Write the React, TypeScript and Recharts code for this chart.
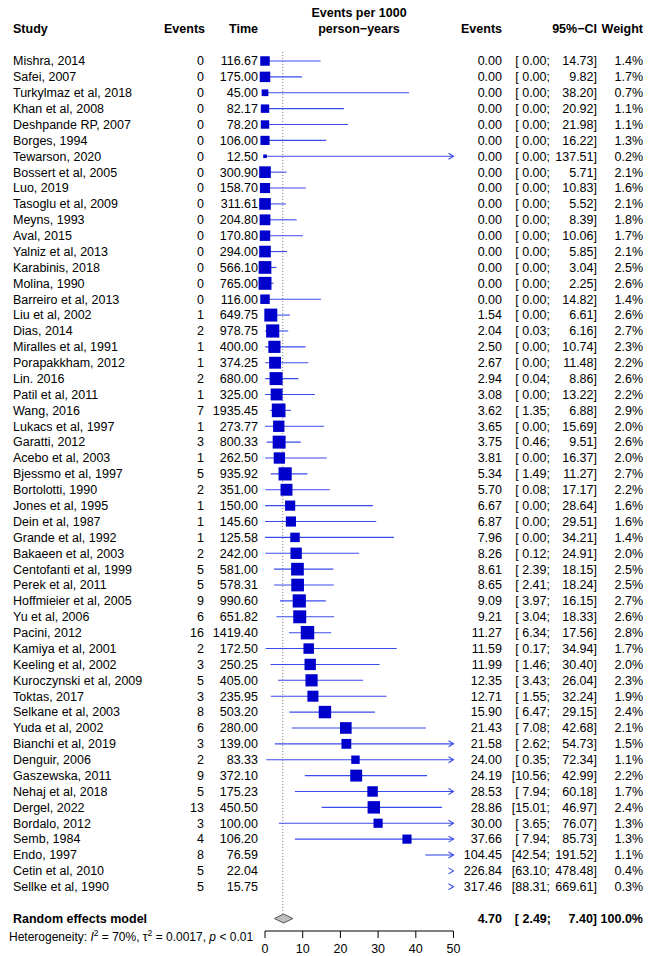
import React from 'react';
import { ScatterChart, Scatter, XAxis, YAxis, ReferenceLine } from 'recharts';

// study rows, top to bottom
const studies = [
  'Mishra, 2014', 'Safei, 2007', 'Turkylmaz et al, 2018', 'Khan et al, 2008', 'Deshpande RP, 2007',
  'Borges, 1994', 'Tewarson, 2020', 'Bossert et al, 2005', 'Luo, 2019', 'Tasoglu et al, 2009',
  'Meyns, 1993', 'Aval, 2015', 'Yalniz et al, 2013', 'Karabinis, 2018', 'Molina, 1990',
  'Barreiro et al, 2013', 'Liu et al, 2002', 'Dias, 2014', 'Miralles et al, 1991', 'Porapakkham, 2012',
  'Lin. 2016', 'Patil et al, 2011', 'Wang, 2016', 'Lukacs et al, 1997', 'Garatti, 2012',
  'Acebo et al, 2003', 'Bjessmo et al, 1997', 'Bortolotti, 1990', 'Jones et al, 1995', 'Dein et al, 1987',
  'Grande et al, 1992', 'Bakaeen et al, 2003', 'Centofanti et al, 1999', 'Perek et al, 2011', 'Hoffmieier et al, 2005',
  'Yu et al, 2006', 'Pacini, 2012', 'Kamiya et al, 2001', 'Keeling et al, 2002', 'Kuroczynski et al, 2009',
  'Toktas, 2017', 'Selkane et al, 2003', 'Yuda et al, 2002', 'Bianchi et al, 2019', 'Denguir, 2006',
  'Gaszewska, 2011', 'Nehaj et al, 2018', 'Dergel, 2022', 'Bordalo, 2012', 'Semb, 1984',
  'Endo, 1997', 'Cetin et al, 2010', 'Sellke et al, 1990',
];

const events = [
  0, 0, 0, 0, 0, 0, 0, 0, 0, 0, 0, 0, 0, 0, 0, 0,
  1, 2, 1, 1, 2, 1, 7, 1, 3, 1, 5, 2, 1, 1, 1, 2, 5, 5, 9, 6, 16, 2, 3, 5, 3, 8, 6, 3, 2, 9, 5, 13, 3, 4, 8, 5, 5,
];

const times = [
  116.67, 175.0, 45.0, 82.17, 78.2, 106.0, 12.5, 300.9, 158.7, 311.61, 204.8, 170.8, 294.0, 566.1, 765.0, 116.0,
  649.75, 978.75, 400.0, 374.25, 680.0, 325.0, 1935.45, 273.77, 800.33, 262.5, 935.92, 351.0, 150.0, 145.6, 125.58,
  242.0, 581.0, 578.31, 990.6, 651.82, 1419.4, 172.5, 250.25, 405.0, 235.95, 503.2, 280.0, 139.0, 83.33, 372.1,
  175.23, 450.5, 100.0, 106.2, 76.59, 22.04, 15.75,
];

const rates = [
  0, 0, 0, 0, 0, 0, 0, 0, 0, 0, 0, 0, 0, 0, 0, 0,
  1.54, 2.04, 2.5, 2.67, 2.94, 3.08, 3.62, 3.65, 3.75, 3.81, 5.34, 5.7, 6.67, 6.87, 7.96, 8.26, 8.61, 8.65, 9.09,
  9.21, 11.27, 11.59, 11.99, 12.35, 12.71, 15.9, 21.43, 21.58, 24.0, 24.19, 28.53, 28.86, 30.0, 37.66, 104.45,
  226.84, 317.46,
];

const lowers = [
  0, 0, 0, 0, 0, 0, 0, 0, 0, 0, 0, 0, 0, 0, 0, 0,
  0, 0.03, 0, 0, 0.04, 0, 1.35, 0, 0.46, 0, 1.49, 0.08, 0, 0, 0, 0.12, 2.39, 2.41, 3.97, 3.04, 6.34, 0.17, 1.46,
  3.43, 1.55, 6.47, 7.08, 2.62, 0.35, 10.56, 7.94, 15.01, 3.65, 7.94, 42.54, 63.1, 88.31,
];

const uppers = [
  14.73, 9.82, 38.2, 20.92, 21.98, 16.22, 137.51, 5.71, 10.83, 5.52, 8.39, 10.06, 5.85, 3.04, 2.25, 14.82,
  6.61, 6.16, 10.74, 11.48, 8.86, 13.22, 6.88, 15.69, 9.51, 16.37, 11.27, 17.17, 28.64, 29.51, 34.21, 24.91,
  18.15, 18.24, 16.15, 18.33, 17.56, 34.94, 30.4, 26.04, 32.24, 29.15, 42.68, 54.73, 72.34, 42.99, 60.18, 46.97,
  76.07, 85.73, 191.52, 478.48, 669.61,
];

const weights = [
  1.4, 1.7, 0.7, 1.1, 1.1, 1.3, 0.2, 2.1, 1.6, 2.1, 1.8, 1.7, 2.1, 2.5, 2.6, 1.4,
  2.6, 2.7, 2.3, 2.2, 2.6, 2.2, 2.9, 2.0, 2.6, 2.0, 2.7, 2.2, 1.6, 1.6, 1.4, 2.0, 2.5, 2.5, 2.7, 2.6, 2.8, 1.7,
  2.0, 2.3, 1.9, 2.4, 2.1, 1.5, 1.1, 2.2, 1.7, 2.4, 1.3, 1.3, 1.1, 0.4, 0.3,
];

// random effects model
const pooled = { label: 'Random effects model', est: 4.7, lo: 2.49, hi: 7.4, weight: '100.0%' };
const xTicks = [0, 10, 20, 30, 40, 50];
const X_MAX = 50;

const FONT = '"Liberation Sans", Arial, Helvetica, sans-serif';
const FS = 12.5;
const ROW0 = 61;
const ROW_H = 15.88;
const PLOT_TOP = 48;
const PLOT_BOTTOM = 931;
const POOLED_ROW = studies.length + 1;

const SQUARE = '#0000CC';
const LINE = '#3A4BEC';

const rows = studies.map((s, i) => ({
  x: 0,
  y: i,
  study: s,
  events: events[i],
  time: times[i],
  est: rates[i],
  lo: lowers[i],
  hi: uppers[i],
  weight: weights[i],
}));

const squares = rows.filter(r => r.est <= X_MAX).map(r => ({ x: r.est, y: r.y, weight: r.weight }));
const labelRows = [...rows, { x: 0, y: POOLED_ROW, pooled: true }];

const f2 = (v: number) => v.toFixed(2);
const ciLeft = (lo: number) => `[${lo < 10 ? ' ' : ''}${f2(lo)};`;

const LabelRow = (props: any) => {
  const { cy, payload } = props;
  if (payload.pooled) {
    return (
      <g fontFamily={FONT} fontSize={FS} fontWeight="bold" fill="#000">
        <text x={13} y={cy} dy="0.35em">{pooled.label}</text>
        <text x={502} y={cy} dy="0.35em" textAnchor="end">{f2(pooled.est)}</text>
        <text x={551} y={cy} dy="0.35em" textAnchor="end" style={{ whiteSpace: 'pre' }}>{ciLeft(pooled.lo)}</text>
        <text x={597} y={cy} dy="0.35em" textAnchor="end">{`${f2(pooled.hi)}]`}</text>
        <text x={643} y={cy} dy="0.35em" textAnchor="end">{pooled.weight}</text>
      </g>
    );
  }
  return (
    <g fontFamily={FONT} fontSize={FS} fill="#000">
      <text x={13} y={cy} dy="0.35em">{payload.study}</text>
      <text x={204} y={cy} dy="0.35em" textAnchor="end">{payload.events}</text>
      <text x={258} y={cy} dy="0.35em" textAnchor="end">{f2(payload.time)}</text>
      <text x={502} y={cy} dy="0.35em" textAnchor="end">{f2(payload.est)}</text>
      <text x={550} y={cy} dy="0.35em" textAnchor="end" style={{ whiteSpace: 'pre' }}>{ciLeft(payload.lo)}</text>
      <text x={597} y={cy} dy="0.35em" textAnchor="end">{`${f2(payload.hi)}]`}</text>
      <text x={643} y={cy} dy="0.35em" textAnchor="end">{`${payload.weight.toFixed(1)}%`}</text>
    </g>
  );
};

const SquareShape = (props: any) => {
  const { cx, cy, payload } = props;
  const side = 9.5 * Math.sqrt(payload.weight / 1.4);
  return <rect x={cx - side / 2} y={cy - side / 2} width={side} height={side} fill={SQUARE} />;
};

const ciShape = (clipped: boolean) => (p: any) => {
  const { x1, y1, x2 } = p;
  return (
    <g>
      {x2 - x1 > 0.5 && <line x1={x1} y1={y1} x2={x2} y2={y1} stroke={LINE} strokeWidth={1.1} />}
      {clipped && (
        <path d={`M${x2 - 5},${y1 - 3}L${x2},${y1}L${x2 - 5},${y1 + 3}`} fill="none" stroke={LINE} strokeWidth={1.1} />
      )}
    </g>
  );
};

const diamondShape = (p: any) => {
  const { x1, y1, x2 } = p;
  const mx = (x1 + x2) / 2;
  return (
    <polygon
      points={`${x1},${y1} ${mx},${y1 - 4.5} ${x2},${y1} ${mx},${y1 + 4.5}`}
      fill="#BEBEBE"
      stroke="#555"
      strokeWidth={1}
    />
  );
};

const App: React.FC = () => {
  const yMin = (PLOT_TOP - ROW0) / ROW_H;
  const yMax = (PLOT_BOTTOM - ROW0) / ROW_H;

  return (
    <div style={{ position: 'absolute', left: 0, top: 0, width: 649, height: 956, background: '#fff' }}>
      <ScatterChart width={649} height={956} margin={{ top: PLOT_TOP, right: 195.5, left: 265, bottom: 0 }}>
        <XAxis
          type="number"
          dataKey="x"
          domain={[0, X_MAX]}
          ticks={xTicks}
          height={956 - PLOT_BOTTOM}
          tickSize={7}
          tickMargin={6}
          stroke="#000"
          tick={{ fill: '#000', fontSize: FS, fontFamily: FONT }}
        />
        <YAxis type="number" dataKey="y" domain={[yMin, yMax]} reversed hide width={0} />

        <ReferenceLine
          segment={[{ x: pooled.est, y: -0.57 }, { x: pooled.est, y: POOLED_ROW - 0.3 }]}
          stroke="#777"
          strokeDasharray="1 2"
          ifOverflow="visible"
        />

        {rows.map(r => (
          <ReferenceLine
            key={`ci-${r.y}`}
            segment={[{ x: Math.min(r.lo, X_MAX), y: r.y }, { x: Math.min(r.hi, X_MAX), y: r.y }]}
            ifOverflow="visible"
            shape={ciShape(r.hi > X_MAX)}
          />
        ))}

        <ReferenceLine
          segment={[{ x: pooled.lo, y: POOLED_ROW }, { x: pooled.hi, y: POOLED_ROW }]}
          ifOverflow="visible"
          shape={diamondShape}
        />

        <Scatter data={squares} shape={SquareShape} isAnimationActive={false} />
        <Scatter data={labelRows} shape={LabelRow} isAnimationActive={false} />
      </ScatterChart>

      <svg
        width={649}
        height={956}
        style={{ position: 'absolute', left: 0, top: 0, pointerEvents: 'none' }}
        fontFamily={FONT}
        fontSize={FS}
      >
        <g fontWeight="bold" fill="#000">
          <text x={359} y={13} dy="0.35em" textAnchor="middle">Events per 1000</text>
          <text x={359} y={29} dy="0.35em" textAnchor="middle">person−years</text>
          <text x={13} y={29} dy="0.35em">Study</text>
          <text x={205} y={29} dy="0.35em" textAnchor="end">Events</text>
          <text x={258} y={29} dy="0.35em" textAnchor="end">Time</text>
          <text x={502} y={29} dy="0.35em" textAnchor="end">Events</text>
          <text x={597} y={29} dy="0.35em" textAnchor="end">95%−CI</text>
          <text x={643} y={29} dy="0.35em" textAnchor="end">Weight</text>
        </g>
        <text x={9} y={937} dy="0.35em" fontSize={12} fill="#000">
          Heterogeneity: <tspan fontStyle="italic">I</tspan>
          <tspan dy={-5} fontSize={8.5}>2</tspan>
          <tspan dy={5}> = 70%, τ</tspan>
          <tspan dy={-5} fontSize={8.5}>2</tspan>
          <tspan dy={5}> = 0.0017, </tspan>
          <tspan fontStyle="italic">p</tspan>
          <tspan> &lt; 0.01</tspan>
        </text>
      </svg>
    </div>
  );
};

export default App;
